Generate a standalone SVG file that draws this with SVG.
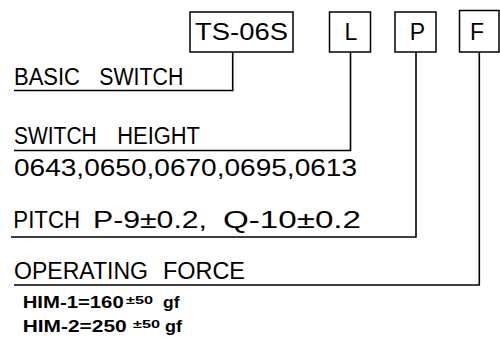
<svg xmlns="http://www.w3.org/2000/svg" width="500" height="341" viewBox="0 0 500 341">
<style>
.box{fill:#fff;stroke:#000;stroke-width:1.5}
.ln{fill:none;stroke:#000;stroke-width:1.6}
.t{font-family:"Liberation Sans",Arial,sans-serif;font-size:23px;fill:#000}
.m{text-anchor:middle}
.s{font-family:"Liberation Sans",Arial,sans-serif;font-size:16.5px;font-weight:bold;fill:#000}
.sup{font-size:11.5px}
</style>
<g id="node-ts06s">
<rect class="box" x="190" y="12" width="103" height="40"/>
<text class="t" x="195" y="39.5" textLength="93" lengthAdjust="spacingAndGlyphs">TS-06S</text>
</g>
<g id="node-L">
<rect class="box" x="329.5" y="12" width="41" height="40"/>
<text class="t m" x="351" y="39.5">L</text>
</g>
<g id="node-P">
<rect class="box" x="395" y="12" width="41" height="40"/>
<text class="t m" x="417.5" y="39.5">P</text>
</g>
<g id="node-F">
<rect class="box" x="459.5" y="10.5" width="39.5" height="41.5"/>
<text class="t m" x="477" y="39.5">F</text>
</g>
<g id="connectors">
<path class="ln" d="M232.7 52 V90.5 H14"/>
<path class="ln" d="M350.5 52 V150.5 H14"/>
<path class="ln" d="M416 52 V237 H11"/>
<path class="ln" d="M479.3 52 V285 H14"/>
</g>
<g id="label-basic">
<text class="t" y="85"><tspan x="14" textLength="66" lengthAdjust="spacingAndGlyphs">BASIC</tspan> <tspan x="99.3" textLength="84" lengthAdjust="spacingAndGlyphs">SWITCH</tspan></text>
</g>
<g id="label-height">
<text class="t" y="144.3"><tspan x="14" textLength="82.7" lengthAdjust="spacingAndGlyphs">SWITCH</tspan> <tspan x="117.3" textLength="82.7" lengthAdjust="spacingAndGlyphs">HEIGHT</tspan></text>
<text class="t" x="14" y="176" textLength="343" lengthAdjust="spacingAndGlyphs">0643,0650,0670,0695,0613</text>
</g>
<g id="label-pitch">
<text class="t" y="228.3"><tspan x="13.3" textLength="66.7" lengthAdjust="spacingAndGlyphs">PITCH</tspan> <tspan x="93" textLength="114" lengthAdjust="spacingAndGlyphs">P-9±0.2,</tspan> <tspan x="223" textLength="138" lengthAdjust="spacingAndGlyphs">Q-10±0.2</tspan></text>
</g>
<g id="label-force">
<text class="t" y="279.3"><tspan x="14" textLength="134" lengthAdjust="spacingAndGlyphs">OPERATING</tspan> <tspan x="163" textLength="82" lengthAdjust="spacingAndGlyphs">FORCE</tspan></text>
<text class="s" y="308"><tspan x="22.7" textLength="101" lengthAdjust="spacingAndGlyphs">HIM-1=160</tspan><tspan class="sup" x="126" dy="-4" textLength="27" lengthAdjust="spacingAndGlyphs">±50</tspan> <tspan x="163" dy="4" textLength="16.5" lengthAdjust="spacingAndGlyphs">gf</tspan></text>
<text class="s" y="331.5"><tspan x="22.7" textLength="104" lengthAdjust="spacingAndGlyphs">HIM-2=250</tspan> <tspan class="sup" x="133" dy="-4" textLength="27" lengthAdjust="spacingAndGlyphs">±50</tspan> <tspan x="165" dy="4" textLength="17" lengthAdjust="spacingAndGlyphs">gf</tspan></text>
</g>
</svg>
